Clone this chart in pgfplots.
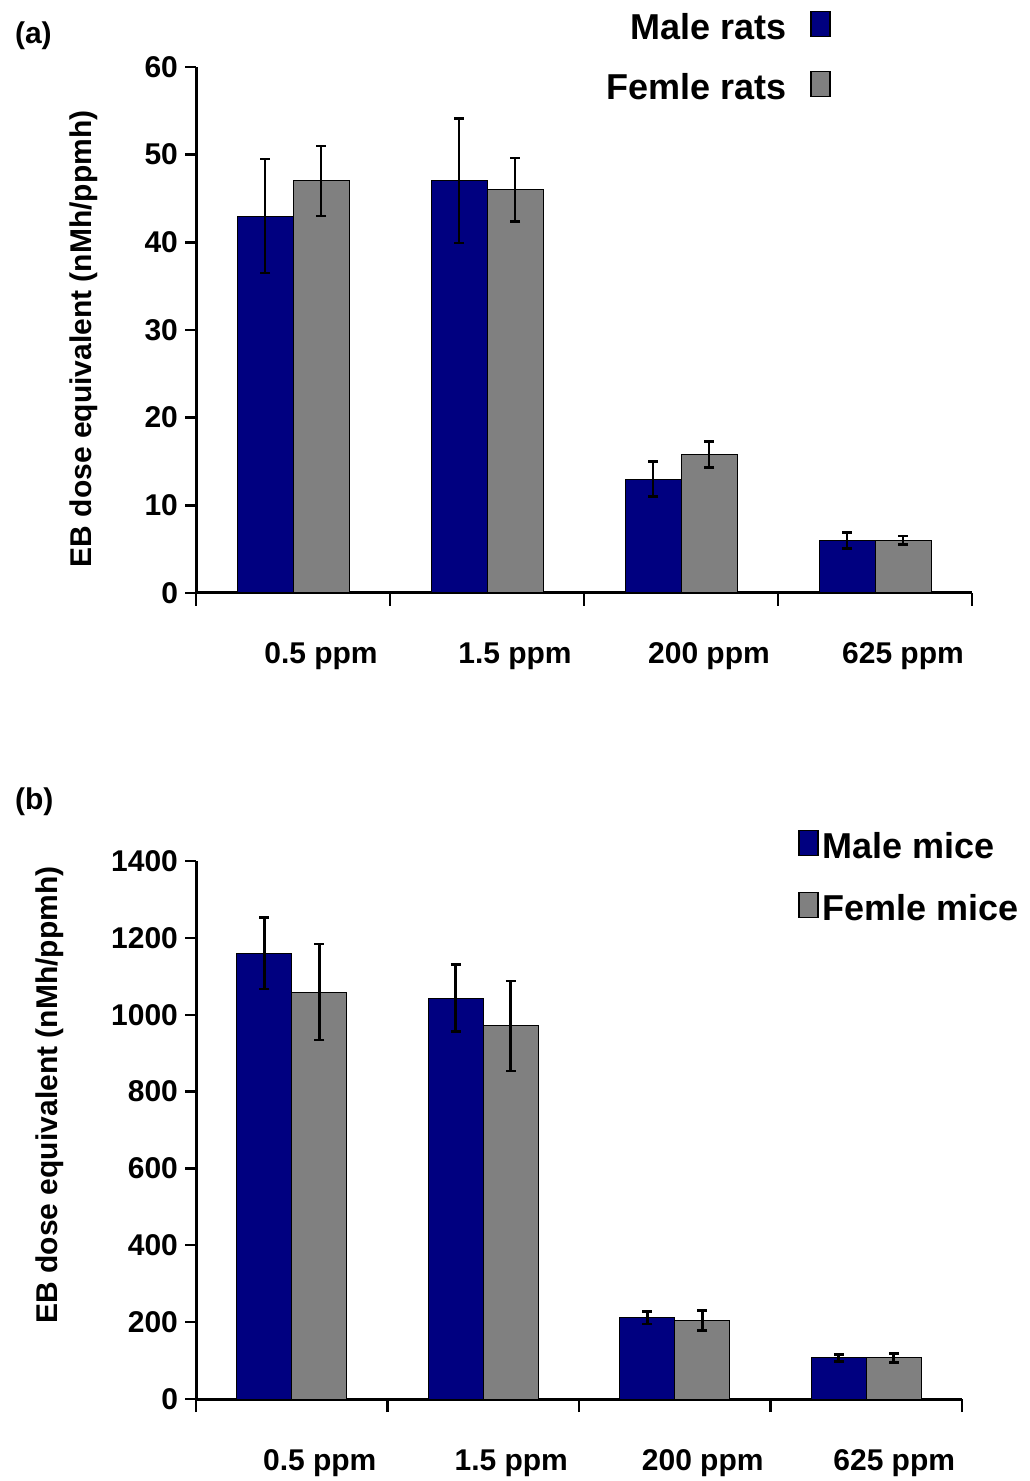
\documentclass[border=0pt]{standalone}
\usepackage{pgfplots}
\pgfplotsset{compat=1.18}
\usepackage{fontspec}
\setmainfont{Liberation Sans}
\definecolor{navyc}{RGB}{0,0,128}
\definecolor{grayc}{RGB}{128,128,128}
\pgfplotsset{
  mystyle/.style={
    scale only axis,
    ybar=0pt,
    xmin=-0.5, xmax=3.5, ymin=0,
    axis x line*=bottom, axis y line*=left,
    axis line style={line width=1.5pt,-},
    xtick={0,1,2,3},
    xticklabels={0.5 ppm,1.5 ppm,200 ppm,625 ppm},
    major x tick style={draw=none},
    minor xtick={-0.5,0.5,1.5,2.5,3.5},
    minor tick length=6.5pt, major tick length=5.5pt,
    tick align=outside,
    tick style={line width=1.2pt, black},
    ticklabel style={font=\fontsize{15}{18}\selectfont\bfseries},
    /pgf/number format/assume math mode=true,
    /pgf/number format/1000 sep={},
    xticklabel style={anchor=base, xshift=14pt, yshift=-30pt},
    legend image code/.code={\draw[#1, line width=0.6pt] (0pt,-4.25pt) rectangle (9.5pt,8.25pt);},
    every axis plot/.append style={draw=black, line width=0.5pt},
    error bars/y dir=both,
    error bars/y explicit,
    error bars/error bar style={line width=1.3pt, black},
    error bars/error mark options={rotate=90, mark size=2.5pt, line width=1.3pt, black},
  }
}
\begin{document}
\begin{tikzpicture}
\useasboundingbox (0,0) rectangle (514.5pt,740.5pt);
\node[anchor=west, font=\fontsize{15}{18}\selectfont\bfseries] at (4pt,722.5pt) {(a)};
\node[anchor=west, font=\fontsize{15}{18}\selectfont\bfseries] at (4pt,339.5pt) {(b)};
\begin{axis}[mystyle,
  at={(98pt,444pt)}, anchor=south west,
  width=388pt, height=263pt,
  ymax=60, ytick={0,10,20,30,40,50,60},
  bar width=28pt,
  ylabel={EB dose equivalent (nMh/ppmh)},
  ylabel style={font=\fontsize{15}{18}\selectfont\bfseries, at={(axis description cs:-0.1443,0.483)}, anchor=center},
  legend plot pos=right, legend cell align=right,
  legend style={draw=none, fill=none, inner sep=0pt, row sep=11.5pt, column sep=10pt,
    font=\fontsize{18}{21}\selectfont\bfseries,
    at={(axis description cs:0.8183,1.1103)}, anchor=north east},
]
\addplot[fill=navyc] table[x=x, y=y, y error=e] {
x y e
0 43 6.5
1 47 7.1
2 13 2.0
3 6 0.9
};
\addlegendentry{Male rats}
\addplot[fill=grayc] table[x=x, y=y, y error=e] {
x y e
0 47 4.0
1 46 3.6
2 15.8 1.5
3 6 0.5
};
\addlegendentry{Femle rats}
\end{axis}
\begin{axis}[mystyle,
  at={(98pt,41pt)}, anchor=south west,
  width=383pt, height=269pt,
  ymax=1400, ytick={0,200,400,600,800,1000,1200,1400},
  bar width=27.5pt,
  ylabel={EB dose equivalent (nMh/ppmh)},
  ylabel style={font=\fontsize{15}{18}\selectfont\bfseries, at={(axis description cs:-0.1906,0.565)}, anchor=center},
  legend cell align=left,
  legend style={draw=none, fill=none, inner sep=0pt, row sep=12.5pt, column sep=0pt,
    font=\fontsize{18}{21}\selectfont\bfseries,
    at={(axis description cs:0.786,1.0614)}, anchor=north west},
]
\addplot[fill=navyc] table[x=x, y=y, y error=e] {
x y e
0 1160 93
1 1043 87
2 211 16
3 107 9
};
\addlegendentry{Male mice}
\addplot[fill=grayc] table[x=x, y=y, y error=e] {
x y e
0 1059 125
1 971 117
2 205 26
3 107 12
};
\addlegendentry{Femle mice}
\end{axis}
\end{tikzpicture}
\end{document}
